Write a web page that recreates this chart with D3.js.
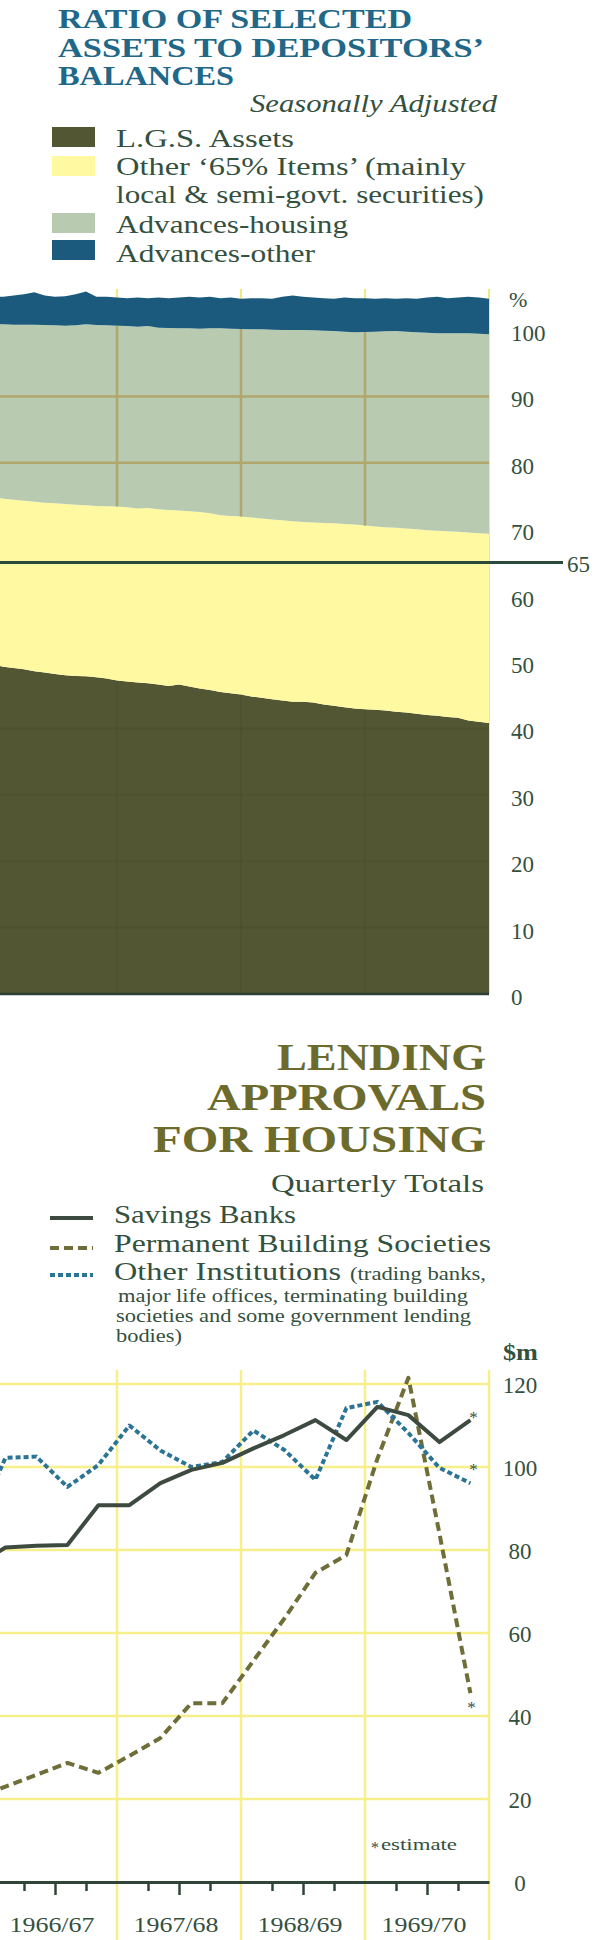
<!DOCTYPE html>
<html>
<head>
<meta charset="utf-8">
<script src="https://cdn.jsdelivr.net/npm/d3@7"></script>
<style>
  body { margin: 0; background: #fff; }
  svg { display: block; }
</style>
</head>
<body>
<svg id="chart"></svg>
<script>
// ---- Ratio of selected assets to depositors' balances (%, monthly, Jul 1966 - Jun 1970)
const lgsAssets = [49.6, 49.3, 49.1, 48.9, 48.6, 48.4, 48.2, 48.0, 47.9, 47.85, 47.7, 47.5, 47.2,
  47.05, 46.9, 46.8, 46.6, 46.4, 46.6, 46.3, 46.0, 45.8, 45.5, 45.3, 45.1,
  44.8, 44.6, 44.4, 44.2, 44.0, 44.0, 43.9, 43.6, 43.4, 43.2, 43.0, 42.9,
  42.8, 42.7, 42.5, 42.4, 42.2, 42.0, 41.9, 41.7, 41.6, 41.2, 41.0, 40.8];
const otherItems = [25.2, 25.3, 25.35, 25.4, 25.55, 25.6, 25.7, 25.8, 25.8, 25.75, 25.8, 25.95, 26.2,
  26.25, 26.2, 26.4, 26.4, 26.5, 26.2, 26.4, 26.6, 26.6, 26.6, 26.7, 26.8,
  26.95, 27.0, 27.05, 27.15, 27.2, 27.1, 27.1, 27.35, 27.5, 27.6, 27.7, 27.65,
  27.6, 27.6, 27.7, 27.7, 27.8, 27.85, 27.85, 28.0, 28.0, 28.3, 28.4, 28.5];
const advHousing = [26.1, 26.25, 26.35, 26.5, 26.65, 26.75, 26.8, 26.85, 27.0, 27.25, 27.25, 27.25, 27.25,
  27.3, 27.4, 27.4, 27.35, 27.4, 27.45, 27.55, 27.6, 27.85, 28.15, 28.2, 28.25,
  28.35, 28.5, 28.6, 28.65, 28.8, 28.9, 28.95, 28.95, 28.95, 28.95, 28.95, 29.15,
  29.35, 29.5, 29.65, 29.65, 29.65, 29.75, 29.75, 29.8, 29.9, 30.0, 30.05, 30.05];
const advOther = [4.1, 4.15, 4.4, 4.6, 4.9, 4.45, 4.3, 4.45, 4.7, 4.95, 4.25, 4.3, 4.25,
  4.2, 4.4, 4.2, 4.55, 4.5, 4.65, 4.75, 4.7, 4.75, 4.55, 4.7, 4.55,
  4.7, 4.7, 4.65, 5.0, 5.2, 5.0, 4.95, 4.9, 4.85, 5.15, 5.15, 5.1,
  4.95, 5.0, 4.85, 5.05, 5.05, 5.3, 5.5, 5.3, 5.4, 5.5, 5.45, 5.35];
const pctTicks = [0, 10, 20, 30, 40, 50, 60, 70, 80, 90, 100];
const pctGrid = [80, 90];
const minRatio = 65;

// ---- Lending approvals for housing ($m, quarterly, from Jun qtr 1966)
const savingsBanks = [76, 80.6, 81.0, 81.2, 90.8, 90.8, 96.1, 99.3, 101.0, 104.5, 107.7, 111.3, 106.5, 114.5, 112.5, 106.0, 111.3];
const permBuilding = [20, 23, 25.8, 28.7, 26.3, 30.4, 34.7, 43.1, 43.1, 53.3, 63.5, 74.5, 78.8, 102, 121.5, 84, 45.5];
const otherInst = [85, 102.2, 102.5, 95.2, 100.5, 110, 104, 100, 101.2, 108.8, 104.1, 96.9, 114.2, 115.7, 108.2, 99.8, 96.1];
const dollarTicks = [0, 20, 40, 60, 80, 100, 120];
const yearLabels = ["1966/67", "1967/68", "1968/69", "1969/70"];

const W = 600, H = 1940;
const serif = "'Liberation Serif', 'DejaVu Serif', serif";
const ink = "#34503e";

const svg = d3.select("#chart").attr("width", W).attr("height", H);
const defs = svg.append("defs");

function txt(g, s, x, y, size, opts = {}) {
  const t = g.append("text")
    .attr("x", x).attr("y", y)
    .attr("font-family", serif)
    .attr("font-size", size)
    .attr("fill", opts.fill || ink)
    .attr("text-anchor", opts.anchor || "start")
    .text(s);
  if (opts.weight) t.attr("font-weight", opts.weight);
  if (opts.style) t.attr("font-style", opts.style);
  if (opts.len) t.attr("textLength", opts.len).attr("lengthAdjust", "spacingAndGlyphs");
  return t;
}

// ================= TOP CHART =================
const topTitle = "#216788";
[["RATIO OF SELECTED", 28, 354], ["ASSETS TO DEPOSITORS\u2019", 57, 426], ["BALANCES", 85, 176]]
  .forEach(([s, y, w]) => txt(svg, s, 58, y, 28, { fill: topTitle, weight: "bold", len: w }));
txt(svg, "Seasonally Adjusted", 497, 112, 25, { anchor: "end", style: "italic", len: 247 });

const topColors = { lgs: "#535632", other: "#fff9a2", housing: "#b8cbb0", advOther: "#1b5a7d" };

// legend
const topLegend = [
  { key: "lgs", y: 127, lines: [["L.G.S. Assets", 147, 178]] },
  { key: "other", y: 156, lines: [["Other \u201865% Items\u2019 (mainly", 175, 350], ["local & semi-govt. securities)", 203, 368]] },
  { key: "housing", y: 213, lines: [["Advances-housing", 233, 232]] },
  { key: "advOther", y: 240, lines: [["Advances-other", 262, 199]] }
];
topLegend.forEach(d => {
  svg.append("rect").attr("x", 52).attr("y", d.y).attr("width", 43).attr("height", 20)
    .attr("fill", topColors[d.key]);
  d.lines.forEach(([s, y, w]) => txt(svg, s, 116, y, 25, { len: w }));
});

const xm = d3.scaleLinear().domain([0, 48]).range([-7, 489]);
const yp = d3.scaleLinear().domain([0, 100]).range([994, 330]);

const rows = lgsAssets.map((v, i) => ({
  m: i, lgs: v, other: otherItems[i], housing: advHousing[i], advOther: advOther[i]
}));
const stacked = d3.stack().keys(["lgs", "other", "housing", "advOther"])(rows);
const area = d3.area()
  .x(d => xm(d.data.m))
  .y0(d => yp(d[0]))
  .y1(d => yp(d[1]));

defs.append("clipPath").attr("id", "plotClip")
  .append("rect").attr("x", 0).attr("y", 0).attr("width", xm(48)).attr("height", H);

const topG = svg.append("g");
// faint year grid behind (shows as tips above the stack)
topG.selectAll(".yv").data([12, 24, 36, 48]).join("line")
  .attr("x1", d => xm(d)).attr("x2", d => xm(d))
  .attr("y1", 289).attr("y2", yp(0))
  .attr("stroke", "#f2ea80").attr("stroke-width", 2);

const areas = topG.append("g").attr("clip-path", "url(#plotClip)");
areas.selectAll("path").data(stacked).join("path")
  .attr("fill", d => topColors[d.key])
  .attr("d", area);

// grid seen through housing band
defs.append("clipPath").attr("id", "housingClip")
  .append("path").attr("d", area(stacked[2]));
const hg = topG.append("g").attr("clip-path", "url(#housingClip)");
hg.selectAll(".h").data(pctGrid).join("line")
  .attr("x1", 0).attr("x2", xm(48))
  .attr("y1", d => yp(d)).attr("y2", d => yp(d))
  .attr("stroke", "#b1a66c").attr("stroke-width", 2.5);
hg.selectAll(".v").data([12, 24, 36]).join("line")
  .attr("x1", d => xm(d)).attr("x2", d => xm(d))
  .attr("y1", yp(110)).attr("y2", yp(0))
  .attr("stroke", "#b1a66c").attr("stroke-width", 2.5);

// faint grid in LGS band
defs.append("clipPath").attr("id", "lgsClip")
  .append("path").attr("d", area(stacked[0]));
const lg = topG.append("g").attr("clip-path", "url(#lgsClip)");
lg.selectAll(".h").data([10, 20, 30, 40]).join("line")
  .attr("x1", 0).attr("x2", xm(48))
  .attr("y1", d => yp(d)).attr("y2", d => yp(d))
  .attr("stroke", "#3a3a22").attr("stroke-opacity", 0.15).attr("stroke-width", 2);
lg.selectAll(".v").data([12, 24, 36]).join("line")
  .attr("x1", d => xm(d)).attr("x2", d => xm(d))
  .attr("y1", yp(60)).attr("y2", yp(0))
  .attr("stroke", "#3a3a22").attr("stroke-opacity", 0.15).attr("stroke-width", 2);

// baseline and 65% line
topG.append("line").attr("x1", 0).attr("x2", xm(48))
  .attr("y1", yp(0)).attr("y2", yp(0))
  .attr("stroke", "#2d4036").attr("stroke-width", 2.5);
topG.append("line").attr("x1", 0).attr("x2", 563)
  .attr("y1", yp(minRatio)).attr("y2", yp(minRatio))
  .attr("stroke", "#2b4a3a").attr("stroke-width", 3);
txt(topG, String(minRatio), 567, yp(minRatio) + 10, 23);

// y labels
txt(topG, "%", 509, 307, 22);
topG.selectAll(".yl").data(pctTicks).join("text")
  .attr("x", 511).attr("y", d => yp(d) + 11)
  .attr("font-family", serif).attr("font-size", 23).attr("fill", ink)
  .text(d => d);

// ================= BOTTOM CHART =================
const botTitle = "#6c6b2c";
[["LENDING", 1070, 209], ["APPROVALS", 1110, 279], ["FOR HOUSING", 1152, 333]]
  .forEach(([s, y, w]) => txt(svg, s, 486, y, 37, { fill: botTitle, weight: "bold", anchor: "end", len: w }));
txt(svg, "Quarterly Totals", 484, 1192, 25, { anchor: "end", len: 213 });

const series = [
  { name: "Savings Banks", values: savingsBanks, color: "#3d4a40", dash: null, ly: 1218, ty: 1223, w: 182 },
  { name: "Permanent Building Societies", values: permBuilding, color: "#6f6e38", dash: "9,5", ly: 1248, ty: 1252, w: 377 },
  { name: "Other Institutions", values: otherInst, color: "#2b7496", dash: "5,3", ly: 1275, ty: 1280, w: 227 }
];

series.forEach(s => {
  svg.append("line").attr("x1", 50).attr("x2", 93).attr("y1", s.ly).attr("y2", s.ly)
    .attr("stroke", s.color).attr("stroke-width", 4)
    .attr("stroke-dasharray", s.dash);
  txt(svg, s.name, 114, s.ty, 25, { len: s.w });
});
txt(svg, "(trading banks,", 350, 1280, 18, { len: 136 });
txt(svg, "major life offices, terminating building", 118, 1302, 18, { len: 350 });
txt(svg, "societies and some government lending", 116, 1322, 18, { len: 355 });
txt(svg, "bodies)", 116, 1342, 18, { len: 66 });

const xq = d3.scaleLinear().domain([0, 16]).range([-7, 489]);
const yd = d3.scaleLinear().domain([0, 120]).range([1882, 1384]);

const bot = svg.append("g");
const gridColor = "#f7f08a";
bot.selectAll(".gh").data(dollarTicks.filter(d => d > 0)).join("line")
  .attr("x1", 0).attr("x2", xq(16))
  .attr("y1", d => yd(d)).attr("y2", d => yd(d))
  .attr("stroke", gridColor).attr("stroke-width", 2.5);
bot.selectAll(".gv").data([4, 8, 12, 16]).join("line")
  .attr("x1", d => xq(d)).attr("x2", d => xq(d))
  .attr("y1", 1370).attr("y2", H)
  .attr("stroke", gridColor).attr("stroke-width", 2.5);

// x axis with quarter ticks
const axis = bot.append("g")
  .attr("transform", `translate(0,${yd(0)})`)
  .call(d3.axisBottom(xq)
    .tickValues([1, 2, 3, 5, 6, 7, 9, 10, 11, 13, 14, 15])
    .tickSize(9).tickSizeOuter(0).tickFormat(""));
axis.select(".domain").attr("stroke", "#2f4538").attr("stroke-width", 3);
axis.selectAll(".tick line").attr("stroke", "#2f4538").attr("stroke-width", 2.5)
  .attr("y2", d => (d % 2 === 0 ? 13 : 9));

yearLabels.forEach((s, i) => {
  txt(bot, s, xq(i * 4 + 2) - 3, 1932, 22, { anchor: "middle", len: 85 });
});

// series lines
const line = d3.line()
  .x((d, i) => xq(i - 0.6))
  .y(d => yd(d));
const lines = bot.append("g").attr("clip-path", "url(#plotClip)");
[series[1], series[2], series[0]].forEach(s => {
  lines.append("path")
    .datum(s.values)
    .attr("fill", "none")
    .attr("stroke", s.color)
    .attr("stroke-width", 4)
    .attr("stroke-linejoin", "round")
    .attr("stroke-dasharray", s.dash)
    .attr("d", line);
});

// estimate markers on the last quarter
const lastX = xq(savingsBanks.length - 1.6);
txt(bot, "*", lastX + 3, yd(savingsBanks[savingsBanks.length - 1]) + 3, 17, { anchor: "middle" });
txt(bot, "*", lastX + 3, yd(otherInst[otherInst.length - 1]) - 8, 17, { anchor: "middle" });
txt(bot, "*", lastX + 1, yd(permBuilding[permBuilding.length - 1]) + 20, 17, { anchor: "middle" });
txt(bot, "*", 375, 1853, 16, { anchor: "middle" });
txt(bot, "estimate", 381, 1850, 17, { len: 76 });

// y labels
txt(bot, "$m", 503, 1360, 23, { weight: "bold", len: 35 });
bot.selectAll(".yl").data(dollarTicks).join("text")
  .attr("x", 520).attr("y", d => yd(d) + 9)
  .attr("text-anchor", "middle")
  .attr("font-family", serif).attr("font-size", 23).attr("fill", ink)
  .text(d => d);
</script>
</body>
</html>
